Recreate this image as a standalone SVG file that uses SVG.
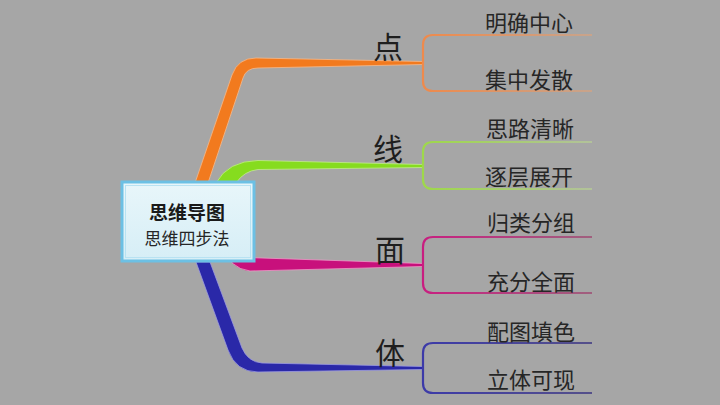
<svg xmlns="http://www.w3.org/2000/svg" width="720" height="405" viewBox="0 0 720 405">
<style>
.leaf{font-family:"Noto Sans CJK SC","Noto Sans",sans-serif;font-size:22px;fill:#262626;text-anchor:middle}
.lbl{font-family:"Noto Sans CJK SC","Noto Sans",sans-serif;font-size:30px;fill:#1e1e1e;text-anchor:middle}
.br{fill:none;stroke-width:2.2}
</style>
<defs>
<linearGradient id="gO" gradientUnits="userSpaceOnUse" x1="423" y1="0" x2="592" y2="0"><stop offset="0" stop-color="#ee8a4c"/><stop offset="1" stop-color="#c8a48c"/></linearGradient>
<linearGradient id="gG" gradientUnits="userSpaceOnUse" x1="423" y1="0" x2="592" y2="0"><stop offset="0" stop-color="#9ed84a"/><stop offset="1" stop-color="#b2c29a"/></linearGradient>
<linearGradient id="gM" gradientUnits="userSpaceOnUse" x1="423" y1="0" x2="592" y2="0"><stop offset="0" stop-color="#c81e80"/><stop offset="1" stop-color="#a0607e"/></linearGradient>
<linearGradient id="gB" gradientUnits="userSpaceOnUse" x1="423" y1="0" x2="592" y2="0"><stop offset="0" stop-color="#3c3aa8"/><stop offset="1" stop-color="#55508a"/></linearGradient>
<linearGradient id="boxFill" x1="0" y1="0" x2="0" y2="1"><stop offset="0" stop-color="#e8f6fa"/><stop offset="1" stop-color="#d6eef6"/></linearGradient>
</defs>
<rect width="720" height="405" fill="#a6a6a6"/>
<g id="connectors">
<path d="M195,183 L232,75 Q238,58 256,58 L423,61.5 L423,64.5 L258,68 Q246,68 243,78 L208,183 Z" fill="#f27a1e" stroke="#f6b98a" stroke-width="0.8"/>
<path d="M216,183 Q228,161 258,160.5 L423,164.5 L423,167.5 L258,169.5 Q244,171 236,183 Z" fill="#86dc1e" stroke="#c2ec8a" stroke-width="0.8"/>
<path d="M232,257 L423,263.5 L423,266.5 L250,271 Q240,270 232,263 Z" fill="#c8107c" stroke="#ec9ac6" stroke-width="0.8"/>
<path d="M196,262 L228,350 Q236,372 258,372 L423,369.5 L423,366.5 L262,363 Q248,362 242,348 L210,262 Z" fill="#2a28a8" stroke="#9c9ae0" stroke-width="0.8"/>
<path class="br" stroke="url(#gO)" d="M592,35 L433,35 Q423,35 423,45 L423,81 Q423,91 433,91 L592,91"/>
<path class="br" stroke="url(#gG)" d="M592,142 L433,142 Q423,142 423,152 L423,179 Q423,189 433,189 L592,189"/>
<path class="br" stroke="url(#gM)" d="M592,237 L433,237 Q423,237 423,247 L423,283 Q423,293 433,293 L592,293"/>
<path class="br" stroke="url(#gB)" d="M592,343 L433,343 Q423,343 423,353 L423,383 Q423,393 433,393 L592,393"/>
</g>
<g id="center">
<rect x="122" y="182" width="132" height="79" fill="url(#boxFill)" stroke="#6cc0e4" stroke-width="3"/>
<rect x="125.5" y="185.5" width="125" height="72" fill="none" stroke="#b8e2f2" stroke-width="1"/>
<text x="187" y="220" style="font-family:'Noto Sans CJK SC','Noto Sans',sans-serif;font-size:19px;font-weight:bold;fill:#1a1a1a" text-anchor="middle">思维导图</text>
<text x="187" y="245" style="font-family:'Noto Sans CJK SC','Noto Sans',sans-serif;font-size:17px;fill:#262626" text-anchor="middle">思维四步法</text>
</g>
<g id="n-dian"><text class="lbl" x="388" y="58">点</text></g>
<g id="n-xian"><text class="lbl" x="388" y="160">线</text></g>
<g id="n-mian"><text class="lbl" x="390" y="261">面</text></g>
<g id="n-ti"><text class="lbl" x="390" y="364">体</text></g>
<g id="l1"><text class="leaf" x="529" y="31">明确中心</text></g>
<g id="l2"><text class="leaf" x="529" y="88">集中发散</text></g>
<g id="l3"><text class="leaf" x="530" y="137">思路清晰</text></g>
<g id="l4"><text class="leaf" x="529" y="185">逐层展开</text></g>
<g id="l5"><text class="leaf" x="531" y="231">归类分组</text></g>
<g id="l6"><text class="leaf" x="531" y="290">充分全面</text></g>
<g id="l7"><text class="leaf" x="531" y="340">配图填色</text></g>
<g id="l8"><text class="leaf" x="531" y="388">立体可现</text></g>
</svg>
